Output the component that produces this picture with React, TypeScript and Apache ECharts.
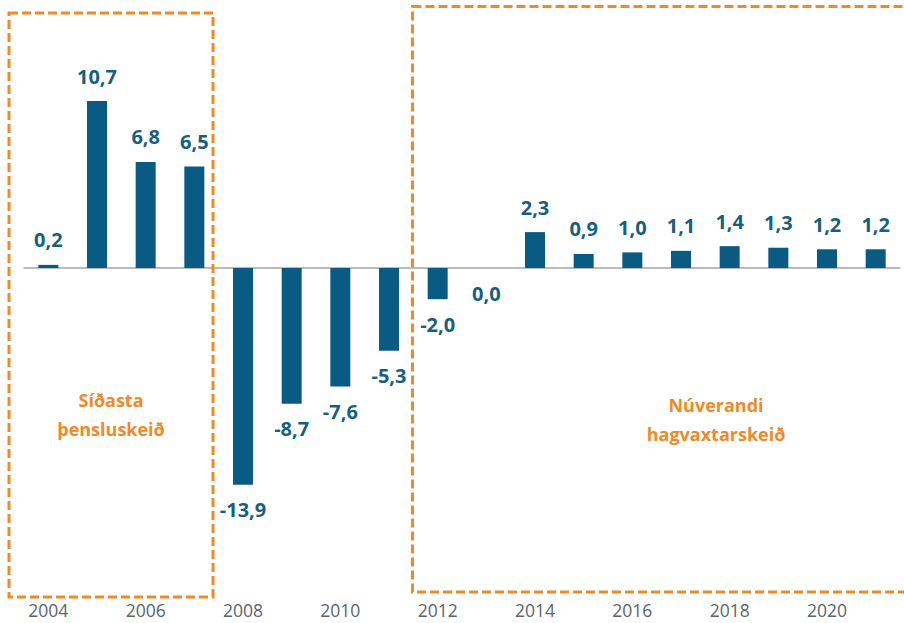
import React, { useEffect, useRef } from "react";
import * as echarts from "echarts";

const years = [
  "2004", "2005", "2006", "2007", "2008", "2009", "2010", "2011", "2012",
  "2013", "2014", "2015", "2016", "2017", "2018", "2019", "2020", "2021",
];
const values = [
  0.2, 10.7, 6.8, 6.5, -13.9, -8.7, -7.6, -5.3, -2.0, 0.0, 2.3, 0.9, 1.0, 1.1,
  1.4, 1.3, 1.2, 1.2,
];
const leftBoxLabel = "Síðasta\nþensluskeið";
const rightBoxLabel = "Núverandi\nhagvaxtarskeið";

const ORANGE = "#F08A28";
const BAR = "#0A5B83";
const LABEL = "#175F7E";

export default function App() {
  const ref = useRef<HTMLDivElement>(null);
  useEffect(() => {
    document.body.style.margin = "0";
    const chart = echarts.init(ref.current!, null, { renderer: "svg" });
    const fmt = (v: number) => v.toFixed(1).replace(".", ",");
    chart.setOption({
      animation: false,
      backgroundColor: "#ffffff",
      grid: { left: 24, right: 4, top: 49.6, bottom: 27.4, containLabel: false },
      xAxis: [
        {
          type: "category",
          data: years,
          position: "bottom",
          axisLine: { show: false, onZero: false },
          axisTick: { show: false },
          axisLabel: {
            interval: 1,
            margin: 6,
            color: "#5A656C",
            fontSize: 17.5,
            lineHeight: 17,
            fontFamily: "Open Sans",
          },
        },
        {
          type: "category",
          data: years,
          position: "bottom",
          axisLine: { show: true, onZero: true, lineStyle: { color: "#A5A5A5", width: 1.5 } },
          axisTick: { show: false },
          axisLabel: { show: false },
        },
      ],
      yAxis: {
        type: "value",
        min: -21,
        max: 14,
        show: false,
        splitLine: { show: false },
      },
      series: [
        {
          type: "bar",
          xAxisIndex: 0,
          data: values.map((v) => ({
            value: v,
            label: {
              position: v <= 0 ? "bottom" : "top",
              distance: 15,
            },
          })),
          barWidth: 20,
          itemStyle: { color: BAR },
          label: {
            show: true,
            color: LABEL,
            fontWeight: "bold",
            fontSize: 20,
            fontFamily: "Open Sans",
            formatter: (p: any) => fmt(p.value),
          },
        },
      ],
      graphic: [
        {
          type: "rect",
          shape: { x: 9, y: 13, width: 204, height: 584 },
          style: { fill: "none", stroke: ORANGE, lineWidth: 3, lineDash: [9, 4] },
          z: 10,
        },
        {
          type: "rect",
          shape: { x: 412.5, y: 6.5, width: 520, height: 585.5 },
          style: { fill: "none", stroke: ORANGE, lineWidth: 3, lineDash: [9, 4] },
          z: 10,
        },
        {
          type: "text",
          x: 111,
          y: 414,
          style: {
            text: leftBoxLabel,
            fill: ORANGE,
            font: "bold 18px 'Open Sans'",
            lineHeight: 29,
            align: "center",
            verticalAlign: "middle",
          },
          z: 10,
        },
        {
          type: "text",
          x: 716,
          y: 419,
          style: {
            text: rightBoxLabel,
            fill: ORANGE,
            font: "bold 18px 'Open Sans'",
            lineHeight: 29,
            align: "center",
            verticalAlign: "middle",
          },
          z: 10,
        },
      ],
    });
    return () => chart.dispose();
  }, []);
  return (
    <div
      ref={ref}
      style={{ position: "absolute", left: 0, top: 0, width: 904, height: 623 }}
    />
  );
}
